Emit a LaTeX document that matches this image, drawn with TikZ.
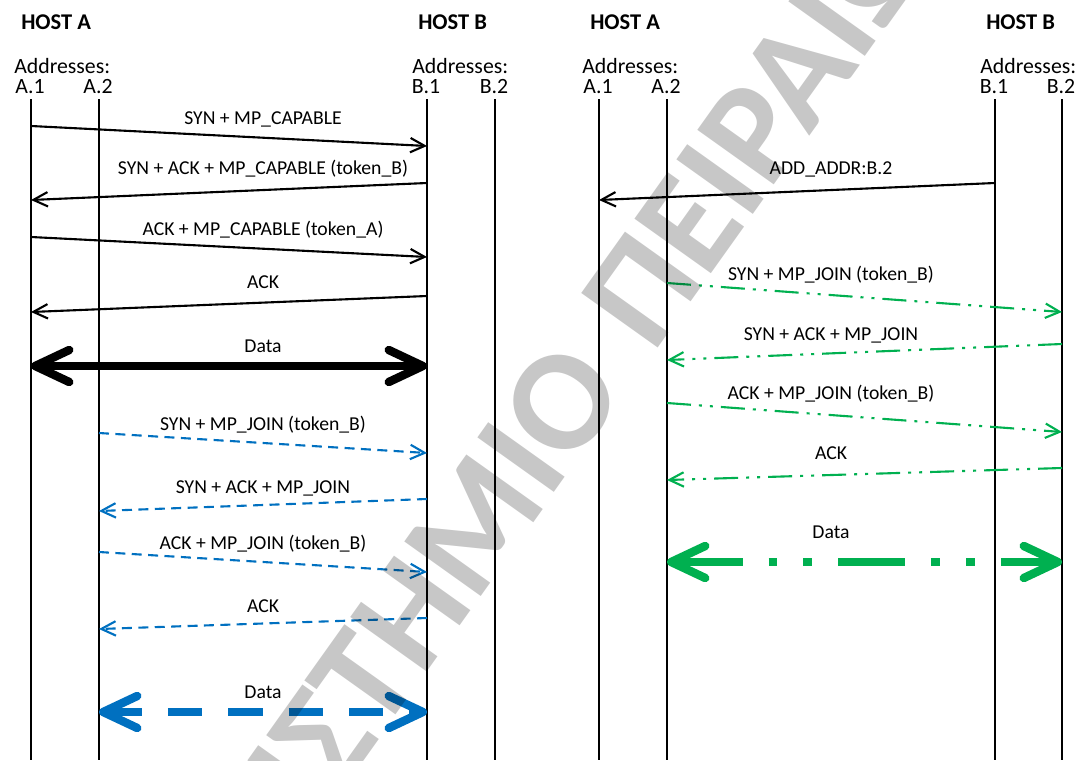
\documentclass[tikz,border=0pt]{standalone}
\usepackage{fontspec}
\setmainfont{Carlito}
\usetikzlibrary{arrows.meta,positioning}
\definecolor{ink}{HTML}{000000}
\definecolor{joinblue}{HTML}{0070C0}
\definecolor{joingreen}{HTML}{00B050}
\tikzset{
  host/.style={anchor=base west, inner sep=0pt, font=\fontsize{16}{18}\selectfont\bfseries, text=ink},
  addrhead/.style={anchor=base west, inner sep=0pt, font=\fontsize{15.5}{18}\selectfont, text=ink},
  addr/.style={anchor=base, inner sep=0pt, font=\fontsize{15.5}{18}\selectfont, text=ink},
  life/.style={line width=1.1pt, draw=ink},
  msglbl/.style={anchor=base, inner sep=0pt, font=\fontsize{14}{16}\selectfont, text=ink},
  msg/.style={-{Straight Barb[length=3.6mm,width=3.6mm]}, line width=1.5pt, draw=#1},
  msg/.default=ink,
  bluemsg/.style={msg=joinblue, dash pattern=on 2.5mm off 1.6mm},
  greenmsg/.style={msg=joingreen, dash pattern=on 6mm off 2mm on 0.75mm off 2mm on 0.75mm off 2mm},
  data/.style={{Straight Barb[length=8.5mm,width=8mm,round]}-{Straight Barb[length=8.5mm,width=8mm,round]}, line width=6pt, draw=#1},
  bluedata/.style={data=joinblue, dash pattern=on 8.6mm off 6.5mm},
  greendata/.style={data=joingreen, dash pattern=on 16.8mm off 6.5mm on 2.2mm off 6.5mm on 2.2mm off 6.5mm},
  wmark/.style={rotate=54.5, anchor=base, inner sep=0pt, font=\fontsize{103}{103}\selectfont\bfseries, text=ink, text opacity=0.22}
}

\begin{document}
\begin{tikzpicture}[x=0.25mm,y=-0.25mm]
\useasboundingbox (0,0) rectangle (1083,760);

% hosts and addresses
\node[host] (hostA) at (21,30) {HOST A};
\node[host] (hostB) at (418,30) {HOST B};
\node[host] (hostA2) at (590,30) {HOST A};
\node[host] (hostB2) at (986,30) {HOST B};
\node[addrhead] (addrA) at (14,73) {Addresses:};
\node[addrhead] (addrB) at (412,73) {Addresses:};
\node[addrhead] (addrA2) at (582,73) {Addresses:};
\node[addrhead] (addrB2) at (980,73) {Addresses:};

% lifelines
\foreach \n/\x/\t in {la1/31/A.1, la2/99/A.2, lb1/427/B.1, lb2/495/B.2, ra1/599/A.1, ra2/667/A.2, rb1/995/B.1, rb2/1062/B.2}{
  \node[addr] (\n lbl) at (\x-1,93) {\t};
  \coordinate (\n) at (\x,99);
  \draw[life] (\n) -- (\n |- 0,760);
}

% first subflow: MP_CAPABLE
\draw[msg] (la1 |- 0,126) -- (lb1 |- 0,146);
\node[msglbl] (c1) at (263,124) {SYN + MP\_CAPABLE};
\draw[msg] (lb1 |- 0,183) -- (la1 |- 0,200);
\node[msglbl] (c2) at (263,174) {SYN + ACK + MP\_CAPABLE (token\_B)};
\draw[msg] (la1 |- 0,237) -- (lb1 |- 0,257);
\node[msglbl] (c3) at (263,235) {ACK + MP\_CAPABLE (token\_A)};
\draw[msg] (lb1 |- 0,296) -- (la1 |- 0,312);
\node[msglbl] (c4) at (263,288) {ACK};
\draw[data=ink] (la1 |- 0,366) -- (lb1 |- 0,366);
\node[msglbl] (c5) at (263,352) {Data};

% second subflow: MP_JOIN from A.2
\draw[bluemsg] (la2 |- 0,433) -- (lb1 |- 0,453);
\node[msglbl] (j1) at (263,430) {SYN + MP\_JOIN (token\_B)};
\draw[bluemsg] (lb1 |- 0,499) -- (la2 |- 0,511);
\node[msglbl] (j2) at (263,493) {SYN + ACK + MP\_JOIN};
\draw[bluemsg] (la2 |- 0,552) -- (lb1 |- 0,572);
\node[msglbl] (j3) at (263,549) {ACK + MP\_JOIN (token\_B)};
\draw[bluemsg] (lb1 |- 0,618) -- (la2 |- 0,629);
\node[msglbl] (j4) at (263,612) {ACK};
\draw[bluedata] (la2 |- 0,712) -- (lb1 |- 0,712);
\node[msglbl] (j5) at (263,698) {Data};

% address advertisement and MP_JOIN towards B.2
\draw[msg] (rb1 |- 0,183) -- (ra1 |- 0,200);
\node[msglbl] (a1) at (831,174) {ADD\_ADDR:B.2};
\draw[greenmsg] (ra2 |- 0,283) -- (rb2 |- 0,312);
\node[msglbl] (g1) at (831,280) {SYN + MP\_JOIN (token\_B)};
\draw[greenmsg] (rb2 |- 0,344) -- (ra2 |- 0,360);
\node[msglbl] (g2) at (831,340) {SYN + ACK + MP\_JOIN};
\draw[greenmsg] (ra2 |- 0,403) -- (rb2 |- 0,432);
\node[msglbl] (g3) at (831,399) {ACK + MP\_JOIN (token\_B)};
\draw[greenmsg] (rb2 |- 0,468) -- (ra2 |- 0,480);
\node[msglbl] (g4) at (831,459) {ACK};
\draw[greendata] (ra2 |- 0,562) -- (rb2 |- 0,562);
\node[msglbl] (g5) at (831,538) {Data};

% watermark
\node[wmark] (stamp) at (628,390) {\llap{ΠΑΝΕΠΙΣΤΗΜΙΟ}\rlap{\hspace{0.3em}ΠΕΙΡΑΙΩΣ}};
\end{tikzpicture}
\end{document}
